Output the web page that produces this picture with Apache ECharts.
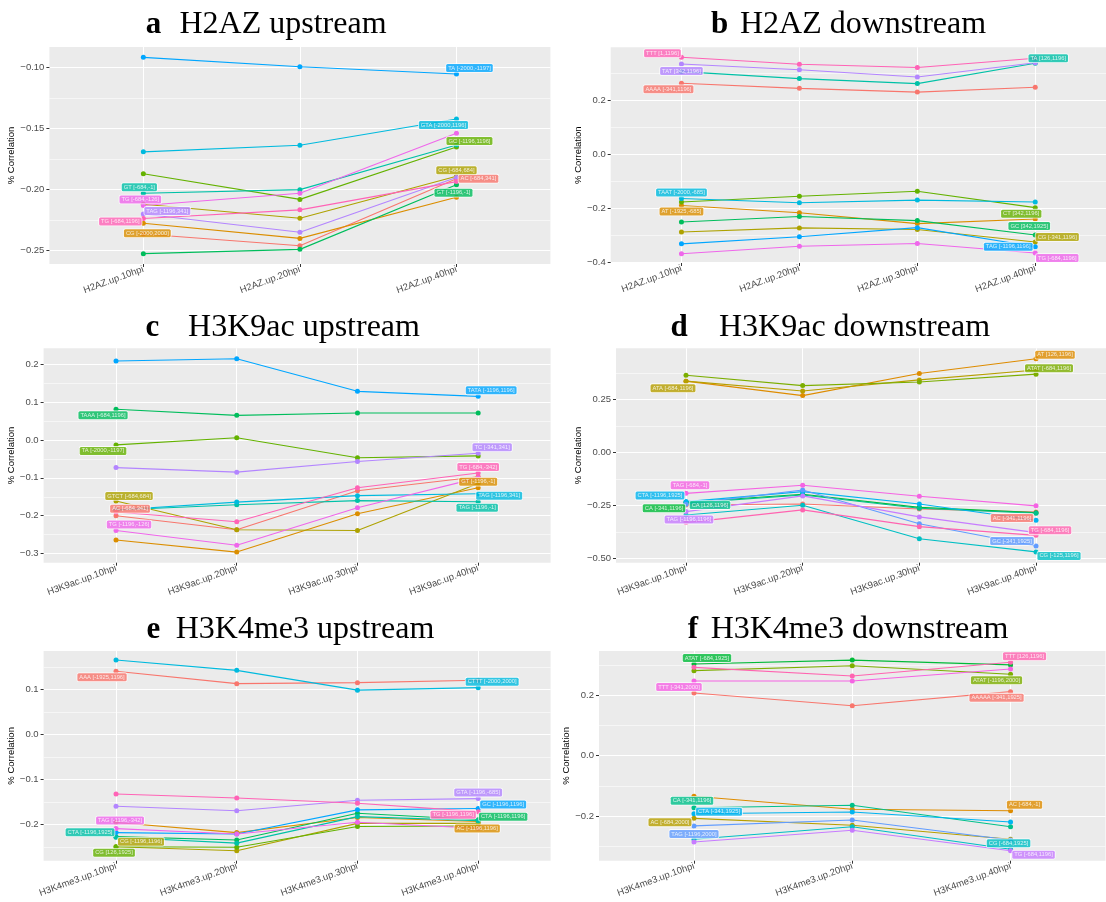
<!DOCTYPE html>
<html><head><meta charset="utf-8">
<script src="https://cdn.jsdelivr.net/npm/echarts/dist/echarts.min.js"></script>
<style>html,body{margin:0;padding:0;background:#fff}#chart{width:1106px;height:902px}</style>
</head><body><div id="chart"></div>
<script>
// ---------------- DATA ----------------
const aCategories = ['H2AZ.up.10hpi','H2AZ.up.20hpi','H2AZ.up.40hpi'];
const aNames = ['AC [-684,341]','CG [-2000,2000]','CG [-684,684]','GC [-1196,1196]','GT [-1196,-1]','GT [-684,-1]','GTA [-2000,1196]','TA [-2000,-1197]','TAG [-1196,341]','TG [-684,-126]','TG [-684,1196]'];
const aValues = [
  [-0.2364,-0.246,-0.191],
  [-0.2276,-0.240,-0.2063],
  [-0.212,-0.2235,-0.189],
  [-0.187,-0.208,-0.165],
  [-0.2525,-0.249,-0.196],
  [-0.203,-0.200,-0.1634],
  [-0.169,-0.1636,-0.142],
  [-0.0915,-0.0992,-0.1052],
  [-0.220,-0.235,-0.190],
  [-0.213,-0.203,-0.1538],
  [-0.2237,-0.2166,-0.1934]
];
const aYTicks = [-0.25,-0.20,-0.15,-0.10];
const aYMinor = [-0.225,-0.175,-0.125];

const bCategories = ['H2AZ.up.10hpi','H2AZ.up.20hpi','H2AZ.up.30hpi','H2AZ.up.40hpi'];
const bNames = ['AAAA [-341,1196]','AT [-1925,-685]','CG [-341,1196]','CT [342,1196]','GC [342,1925]','TA [126,1196]','TAAT [-2000,-685]','TAG [-1196,1196]','TAT [342,1196]','TG [-684,1196]','TTT [1,1196]'];
const bValues = [
  [0.263,0.244,0.230,0.248],
  [-0.190,-0.217,-0.257,-0.240],
  [-0.288,-0.273,-0.279,-0.325],
  [-0.177,-0.156,-0.137,-0.198],
  [-0.251,-0.231,-0.246,-0.299],
  [0.306,0.280,0.2615,0.337],
  [-0.164,-0.180,-0.170,-0.177],
  [-0.332,-0.306,-0.272,-0.343],
  [0.334,0.313,0.286,0.339],
  [-0.369,-0.341,-0.331,-0.366],
  [0.359,0.333,0.321,0.3556]
];
const bYTicks = [-0.4,-0.2,0.0,0.2];
const bYMinor = [-0.3,-0.1,0.1,0.3];

const cCategories = ['H3K9ac.up.10hpi','H3K9ac.up.20hpi','H3K9ac.up.30hpi','H3K9ac.up.40hpi'];
const cNames = ['AC [-684,341]','GT [-1196,-1]','GTCT [-684,684]','TA [-2000,-1197]','TAAA [-684,1196]','TAG [-1196,-1]','TAG [-1196,341]','TATA [-1196,1196]','TC [-341,341]','TG [-1196,-126]','TG [-684,-342]'];
const cValues = [
  [-0.200,-0.237,-0.134,-0.097],
  [-0.264,-0.296,-0.195,-0.126],
  [-0.161,-0.237,-0.239,-0.115],
  [-0.013,0.006,-0.047,-0.042],
  [0.081,0.065,0.071,0.071],
  [-0.185,-0.171,-0.160,-0.163],
  [-0.185,-0.164,-0.147,-0.142],
  [0.2084,0.2146,0.1284,0.1152],
  [-0.073,-0.085,-0.057,-0.035],
  [-0.239,-0.278,-0.179,-0.100],
  [-0.190,-0.216,-0.126,-0.087]
];
const cYTicks = [-0.3,-0.2,-0.1,0.0,0.1,0.2];
const cYMinor = [-0.25,-0.15,-0.05,0.05,0.15];

const dCategories = ['H3K9ac.up.10hpi','H3K9ac.up.20hpi','H3K9ac.up.30hpi','H3K9ac.up.40hpi'];
const dNames = ['AC [-341,1196]','AT [126,1196]','ATA [-684,1196]','ATAT [-684,1196]','CA [-341,1196]','CA [126,1196]','CG [-125,1196]','CTA [-1196,1925]','GC [-341,1925]','TAG [-1196,1196]','TAG [-684,-1]','TG [-684,1196]'];
const dValues = [
  [-0.247,-0.242,-0.266,-0.280],
  [0.337,0.269,0.373,0.443],
  [0.337,0.291,0.343,0.390],
  [0.365,0.316,0.333,0.370],
  [-0.234,-0.196,-0.258,-0.283],
  [-0.238,-0.200,-0.262,-0.286],
  [-0.294,-0.248,-0.406,-0.468],
  [-0.231,-0.184,-0.242,-0.319],
  [-0.243,-0.176,-0.335,-0.440],
  [-0.278,-0.204,-0.303,-0.377],
  [-0.192,-0.154,-0.206,-0.251],
  [-0.330,-0.270,-0.349,-0.390]
];
const dYTicks = [-0.50,-0.25,0.00,0.25];
const dYMinor = [-0.375,-0.125,0.125,0.375];

const eCategories = ['H3K4me3.up.10hpi','H3K4me3.up.20hpi','H3K4me3.up.30hpi','H3K4me3.up.40hpi'];
const eNames = ['AAA [-1925,1196]','AC [-1196,1196]','CG [-1196,1196]','CG [126,1925]','CTA [-1196,1196]','CTA [-1196,1925]','CTTT [-2000,2000]','GC [-1196,1196]','GTA [-1196,-685]','TAG [-1196,-342]','TG [-1196,1196]'];
const eValues = [
  [0.140,0.1124,0.1147,0.120],
  [-0.196,-0.2186,-0.185,-0.194],
  [-0.250,-0.259,-0.198,-0.198],
  [-0.250,-0.251,-0.205,-0.204],
  [-0.2275,-0.235,-0.1756,-0.190],
  [-0.229,-0.242,-0.183,-0.192],
  [0.165,0.142,0.098,0.1036],
  [-0.2186,-0.2216,-0.168,-0.165],
  [-0.160,-0.170,-0.1467,-0.143],
  [-0.2097,-0.2215,-0.1956,-0.209],
  [-0.1327,-0.1416,-0.1533,-0.172]
];
const eYTicks = [-0.2,-0.1,0.0,0.1];
const eYMinor = [-0.25,-0.15,-0.05,0.05,0.15];

const fCategories = ['H3K4me3.up.10hpi','H3K4me3.up.20hpi','H3K4me3.up.40hpi'];
const fNames = ['AAAAA [-341,1925]','AC [-684,-1]','AC [-684,2000]','ATAT [-1196,2000]','ATAT [-684,1925]','CA [-341,1196]','CG [-684,1925]','CTA [-341,1925]','TAG [-1196,2000]','TG [-684,1196]','TTT [-341,2000]','TTT [126,1196]'];
const fValues = [
  [0.207,0.165,0.2116],
  [-0.134,-0.177,-0.182],
  [-0.207,-0.230,-0.276],
  [0.281,0.2975,0.269],
  [0.303,0.316,0.300],
  [-0.172,-0.164,-0.235],
  [-0.276,-0.235,-0.309],
  [-0.192,-0.186,-0.219],
  [-0.232,-0.2126,-0.2787],
  [-0.285,-0.2466,-0.314],
  [0.247,0.247,0.2866],
  [0.292,0.2635,0.309]
];
const fYTicks = [-0.2,0.0,0.2];
const fYMinor = [-0.3,-0.1,0.1,0.3];

// ---------------- LAYOUT (label anchor point index + pixel offset) ----------------
const aLabelPos = [[2,22,0],[0,4,10],[2,0,-6],[2,13,-6],[2,-3,8],[0,-4,-6],[2,-13,6],[2,13,-6],[0,24,-3],[0,-3,-6],[0,-23,3]];
const bLabelPos = [[0,-13,6],[0,0,6],[3,22,-5],[3,-14,6],[3,-6,-9],[3,13,-5],[0,0,-6],[3,-27,0],[0,0,7],[3,22,5],[0,-19,-4]];
const cLabelPos = [[0,14,-7],[3,0,-6],[0,13,-5],[0,-13,6],[0,-13,6],[3,-1,6],[3,21,2],[3,13,-6],[3,14,-6],[0,13,-6],[3,0,-6]];
const dLabelPos = [[3,-24,6],[3,19,-4],[0,-13,7],[3,13,-6],[0,-22,6],[0,24,2],[3,23,4],[0,-26,-6],[3,-24,-5],[0,3,8],[0,4,-8],[3,14,-5]];
const eLabelPos = [[0,-14,6],[3,-1,7],[0,25,-5],[0,-2,6],[3,25,-3],[0,-26,-5],[3,14,-6],[3,25,-4],[3,0,-6],[0,4,-8],[3,-25,3]];
const fLabelPos = [[2,-14,6],[2,14,-6],[0,-24,4],[2,-14,6],[0,13,-6],[0,-2,-7],[2,-2,-6],[0,25,-2],[0,0,8],[2,23,4],[0,-15,6],[2,14,-6]];

// ---------------- COLOURS (ggplot2 hue palette) ----------------
function hcl2hex(h, c, l) {
  const r2 = Math.PI / 180;
  const U = c * Math.cos(h * r2), V = c * Math.sin(h * r2);
  const Xn = 95.047, Yn = 100, Zn = 108.883;
  const den = Xn + 15 * Yn + 3 * Zn;
  const un = 4 * Xn / den, vn = 9 * Yn / den;
  const Y = l > 8 ? Yn * Math.pow((l + 16) / 116, 3) : Yn * l / 903.3;
  const u = U / (13 * l) + un, v = V / (13 * l) + vn;
  const X = 9 * Y * u / (4 * v), Z = -X / 3 - 5 * Y + 3 * Y / v;
  const x = X / 100, y = Y / 100, z = Z / 100;
  const lin = [
    3.240479 * x - 1.537150 * y - 0.498535 * z,
    -0.969256 * x + 1.875992 * y + 0.041556 * z,
    0.055648 * x - 0.204043 * y + 1.057311 * z
  ];
  return '#' + lin.map(t => {
    let s = t > 0.00304 ? 1.055 * Math.pow(t, 1 / 2.4) - 0.055 : 12.92 * t;
    s = Math.max(0, Math.min(1, s));
    return Math.round(s * 255).toString(16).padStart(2, '0');
  }).join('');
}
function huePal(n) {
  const out = [];
  for (let i = 0; i < n; i++) out.push(hcl2hex((15 + 360 * i / n) % 360, 100, 65));
  return out;
}

// ---------------- PANELS ----------------
const panels = [
  {letter:'a', title:'H2AZ upstream', cats:aCategories, names:aNames, values:aValues, ticks:aYTicks, minor:aYMinor, labels:aLabelPos,
   min:-0.261, max:-0.083, dec:2, grid:{left:49.4, top:47, width:501, height:217}, nameGap:27, lx:153.5, tx:283, ty:25},
  {letter:'b', title:'H2AZ downstream', cats:bCategories, names:bNames, values:bValues, ticks:bYTicks, minor:bYMinor, labels:bLabelPos,
   min:-0.403, max:0.396, dec:1, grid:{left:610.7, top:47.3, width:507, height:215.7}, nameGap:19, lx:719.5, tx:863, ty:25},
  {letter:'c', title:'H3K9ac upstream', cats:cCategories, names:cNames, values:cValues, ticks:cYTicks, minor:cYMinor, labels:cLabelPos,
   min:-0.324, max:0.242, dec:1, grid:{left:43.6, top:348.3, width:507, height:214.4}, nameGap:22, lx:152.5, tx:304, ty:328},
  {letter:'d', title:'H3K9ac downstream', cats:dCategories, names:dNames, values:dValues, ticks:dYTicks, minor:dYMinor, labels:dLabelPos,
   min:-0.519, max:0.492, dec:2, grid:{left:616, top:348.3, width:502, height:214.4}, nameGap:25, lx:679, tx:854.5, ty:328},
  {letter:'e', title:'H3K4me3 upstream', cats:eCategories, names:eNames, values:eValues, ticks:eYTicks, minor:eYMinor, labels:eLabelPos,
   min:-0.281, max:0.185, dec:1, grid:{left:43.6, top:651, width:507, height:209.7}, nameGap:22, lx:153.5, tx:305, ty:630},
  {letter:'f', title:'H3K4me3 downstream', cats:fCategories, names:fNames, values:fValues, ticks:fYTicks, minor:fYMinor, labels:fLabelPos,
   min:-0.347, max:0.346, dec:1, grid:{left:599, top:651, width:506.5, height:209.7}, nameGap:20, lx:693, tx:859.5, ty:630}
];

const grids = [], xAxes = [], yAxes = [], series = [], graphics = [];
const tickColor = '#333333', labColor = '#4D4D4D';

panels.forEach((p, k) => {
  const n = p.cats.length;
  const colors = huePal(p.names.length);
  const catIdx = p.cats.map((c, i) => i);
  grids.push(Object.assign({show:true, backgroundColor:'#EBEBEB', borderWidth:0, containLabel:false}, p.grid));
  xAxes.push({
    type:'value', gridIndex:k, min:-0.6, max:n - 0.4, position:'bottom',
    axisLine:{show:false, onZero:false},
    axisTick:{show:true, customValues:catIdx, length:3, lineStyle:{color:tickColor, width:1}},
    axisLabel:{show:true, customValues:catIdx, formatter:v => p.cats[Math.round(v)] || '',
      rotate:20, fontSize:9.5, color:labColor, fontFamily:'Liberation Sans, Arial, sans-serif', margin:5},
    splitLine:{show:true, lineStyle:{color:'#FFFFFF', width:1.1}}
  });
  // major y axis
  yAxes.push({
    type:'value', gridIndex:k, min:p.min, max:p.max, position:'left', z:2,
    name:'% Correlation', nameLocation:'middle', nameRotate:90, nameGap:p.nameGap,
    nameTextStyle:{fontSize:9.5, color:'#000', fontFamily:'Liberation Sans, Arial, sans-serif'},
    axisLine:{show:false, onZero:false},
    axisTick:{show:true, customValues:p.ticks, length:3, lineStyle:{color:tickColor, width:1}},
    axisLabel:{show:true, customValues:p.ticks, formatter:v => v.toFixed(p.dec).replace('-', '\u2212'),
      fontSize:9.5, color:labColor, fontFamily:'Liberation Sans, Arial, sans-serif', margin:5},
    splitLine:{show:true, lineStyle:{color:'#FFFFFF', width:1.1}}
  });
  // minor grid axis
  yAxes.push({
    type:'value', gridIndex:k, min:p.min, max:p.max, position:'left', z:1,
    axisLine:{show:false, onZero:false},
    axisTick:{show:false, customValues:p.minor},
    axisLabel:{show:false, customValues:p.minor},
    splitLine:{show:true, lineStyle:{color:'#FFFFFF', width:0.55}}
  });
  p.names.forEach((nm, i) => {
    series.push({
      type:'line', name:nm, xAxisIndex:k, yAxisIndex:2 * k, z:3,
      data:p.values[i].map((v, j) => [j, v]),
      symbol:'circle', symbolSize:5, showSymbol:true,
      color:colors[i], itemStyle:{color:colors[i]},
      lineStyle:{color:colors[i], width:1.1},
      animation:false, silent:true, label:{show:false}
    });
  });
  series.push({
    type:'scatter', xAxisIndex:k, yAxisIndex:2 * k, z:10, symbolSize:0, silent:true, animation:false,
    data:p.names.map((nm, i) => {
      const lp = p.labels[i];
      return {
        name:nm, value:[lp[0], p.values[i][lp[0]]],
        label:{show:true, position:'inside', offset:[lp[1], lp[2]], formatter:'{b}',
          color:'#fff', fontSize:5.8, fontFamily:'Liberation Sans, Arial, sans-serif',
          backgroundColor:colors[i], borderColor:'#fff', borderWidth:0.8, borderRadius:1.5,
          padding:[1.2, 2, 0.8, 2], align:'center', verticalAlign:'middle'}
      };
    })
  });
  graphics.push({type:'text', x:p.lx, y:p.ty, silent:true,
    style:{text:p.letter, font:'bold 31px "Liberation Serif", serif', fill:'#000', align:'center', verticalAlign:'middle'}});
  graphics.push({type:'text', x:p.tx, y:p.ty, silent:true,
    style:{text:p.title, font:'32px "Liberation Serif", serif', fill:'#000', align:'center', verticalAlign:'middle'}});
});

const chart = echarts.init(document.getElementById('chart'), null, {renderer:'canvas'});
chart.setOption({
  animation:false,
  backgroundColor:'#FFFFFF',
  grid:grids, xAxis:xAxes, yAxis:yAxes, series:series, graphic:graphics
});
</script></body></html>
